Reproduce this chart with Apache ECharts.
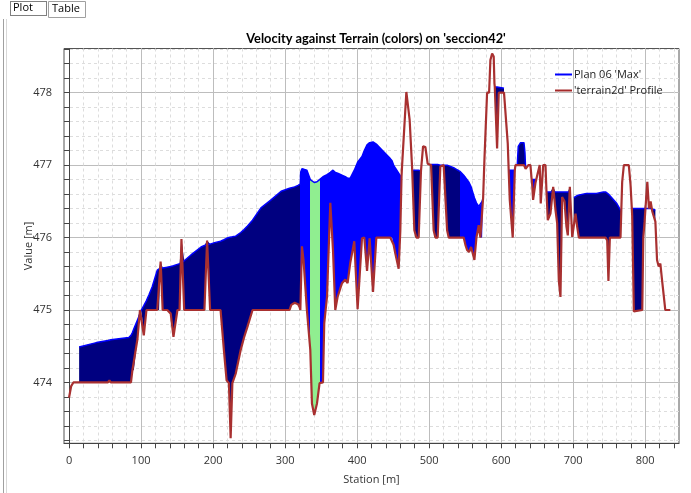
<!DOCTYPE html>
<html>
<head>
<meta charset="utf-8">
<style>
  html, body { margin: 0; padding: 0; background: #ffffff; }
  #chart { width: 691px; height: 493px; }
</style>
<script src="https://cdn.jsdelivr.net/npm/echarts@6/dist/echarts.min.js"></script>
</head>
<body>
<div id="chart"></div>
<script>
// Cross-section 'seccion42': terrain profile and maximum water surface (Plan 06)
const station = [
  0, 3, 6, 14, 14, 38, 54, 56, 58, 83, 86, 88, 90, 95, 98.5, 100.5, 103.8, 107.5, 111, 115.5,
  122.5, 125, 127.2, 130, 136.4, 141.2, 145, 150.5, 153.5, 156.1, 159.9, 169.3, 183.3, 188, 191.7, 195.9,
  202, 210.4, 215, 218.8, 222, 224.4, 226.8, 231.4, 238.4, 243, 247.8, 254.8, 266.5, 280.5, 294.5,
  306.2, 308.6, 313.3, 318, 320.2, 321.2, 321.6, 323.4, 325.6, 330.3, 335, 337.3, 340.5, 344.3, 347.9,
  352.6, 354.4, 358.2, 362.8, 366.5, 369.7, 372.9, 379, 383.6, 386.8, 390.5, 396.1, 400.7, 406.8,
  410, 413.8, 417.4, 422.1, 426.7, 434.6, 446.1, 448.5, 450.7, 453.1, 457.7, 460, 461.7, 462.4,
  464.7, 468.4, 473, 476.3, 476.5, 479.5, 482.3, 485.5, 488.7, 491.6, 494.8, 498, 502.7, 506.3,
  508.7, 511.9, 515.6, 520.2, 525, 527.2, 535, 543.4, 548, 550.4, 552.7, 555.5, 558.3, 562.9,
  565.7, 568.9, 571.2, 573.6, 575, 576.8, 580.5, 583.3, 585.1, 587.5, 589.7, 590.7, 591.2, 594.4,
  596.7, 604, 606, 609.2, 610.5, 612, 616.1, 619, 619.9, 622.4, 623.8, 627, 631.7, 633.1, 634,
  637.8, 640.7, 642.4, 643, 644.4, 647.6, 648.8, 650.9, 653.6, 655, 658.4, 661.6, 663, 664.8,
  668.5, 672.3, 675.5, 677.8, 680.1, 682.4, 684.7, 688, 690.7, 692.6, 695.4, 698.7, 701, 701,
  703.3, 705.6, 707.9, 718.4, 732.4, 741.9, 745, 747.3, 749, 751, 760.7, 765.8, 766.9, 768.1,
  770.4, 777.3, 779.7, 781.5, 782, 784.3, 796, 797.4, 799.2, 803, 805.3, 807.6, 809.9, 814.2,
  814.2, 816.5, 818.8, 821.1, 823.5, 828, 835
];
const terrain = [
  473.79, 473.95, 474.0, 474.0, 474.0, 474.0, 474.0, 474.03, 474.0, 474.0, 474.0, 474.17, 474.17, 474.6, 475.0, 475.0, 474.65, 475.0, 475.0, 475.0,
  475.0, 475.0, 475.67, 475.0, 475.0, 474.95, 474.63, 475.0, 475.0, 475.98, 475.0, 475.0, 475.0, 475.0, 475.96, 475.0,
  475.0, 475.0, 474.45, 474.03, 473.99, 473.23, 473.99, 474.12, 474.45, 474.62, 474.77, 475.0, 475.0, 475.0, 475.0,
  475.0, 475.07, 475.1, 475.08, 475.04, 475.0, 475.0, 475.88, 475.69, 475.0, 474.45, 473.71, 473.55, 473.71, 473.99,
  474.0, 474.82, 475.18, 476.48, 475.83, 475.0, 475.18, 475.37, 475.42, 475.37, 475.65, 475.95, 475.01, 475.99,
  476.0, 475.54, 475.99, 475.25, 476.0, 476.0, 476.0, 476.0, 475.9, 475.78, 475.57, 476.09, 476.84, 476.98,
  477.0, 478.01, 477.62, 476.98, 476.93, 476.1, 476.0, 476.0, 476.92, 477.26, 477.25, 477.02, 477.0, 476.1,
  476.0, 476.0, 476.98, 477.0, 476.1, 476.0, 476.0, 476.0, 476.0, 475.9, 475.83, 475.8, 475.87, 475.69,
  476.0, 476.17, 476.0, 476.0, 476.55, 477.07, 478.0, 478.0, 478.45, 478.54, 478.5, 478.13, 478.08, 477.23,
  478.0, 478.0, 478.0, 477.3, 476.93, 476.52, 476.0, 476.93, 477.0, 477.0, 477.0, 477.0, 477.0, 477.0, 476.95,
  477.0, 477.0, 476.8, 476.75, 476.52, 476.75, 476.8, 476.89, 477.0, 476.47, 477.0, 477.0, 476.63, 476.24,
  476.33, 476.7, 476.38, 476.2, 475.41, 475.18, 476.56, 476.5, 476.15, 476.03, 476.7, 476.01, 476.17, 476.17,
  476.33, 476.15, 476.0, 476.0, 476.0, 476.0, 476.0, 475.96, 475.4, 476.0, 476.0, 476.0, 476.38, 476.77,
  477.0, 477.0, 476.73, 476.4, 476.3, 474.98, 475.0, 476.0, 476.22, 476.77, 476.4, 476.5, 476.36, 476.22,
  476.22, 475.69, 475.6, 475.64, 475.41, 475.0, 475.0
];
// Maximum water surface elevation; null where the ground is dry
const wse = [
  null, null, null, null, 474.49, 474.55, 474.58, 474.58, 474.59, 474.62, 474.65, 474.69, 474.74, 474.86, 474.95, 475.0, 475.06, 475.13, 475.21, 475.32,
  475.55, 475.57, 475.58, 475.58, 475.59, 475.6, 475.61, 475.63, 475.64, 475.66, 475.68, 475.76, 475.87, 475.89, 475.9, 475.91,
  475.93, 475.95, 475.97, 475.99, 476.0, 476.0, 476.01, 476.02, 476.07, 476.11, 476.16, 476.24, 476.41, 476.52, 476.64,
  476.68, 476.69, 476.7, 476.72, 476.73, 476.74, 476.9, 476.95, 476.95, 476.93, 476.8, 476.78, 476.76, 476.77, 476.8,
  476.84, 476.85, 476.87, 476.9, 476.93, 476.9, 476.89, 476.86, 476.84, 476.82, 476.82, 476.93, 477.04, 477.12,
  477.2, 477.28, 477.31, 477.32, 477.29, 477.21, 477.09, 477.06, 477.0, 476.96, 476.89, 476.85, 476.84, null,
  null, null, null, null, 476.93, 476.93, 476.93, 476.93, 476.92, null, null, null, 477.01, 477.01,
  477.01, 477.01, 477.0, 477.0, 477.0, 476.99, 476.96, 476.91, 476.86, 476.84, 476.8, 476.76, 476.7, 476.55,
  476.48, 476.43, 476.45, 476.5, 476.55, null, null, null, null, null, null, null, 478.08, 478.08,
  478.08, 478.06, null, null, 476.93, 476.93, 476.93, 476.93, null, 477.0, 477.26, 477.31, 477.31, 477.17, 476.95,
  null, null, 476.8, 476.8, 476.8, 476.8, 476.8, null, null, null, null, null, 476.63, 476.63,
  476.63, 476.63, 476.63, 476.63, 476.63, 476.63, 476.63, 476.63, 476.63, 476.63, 476.63, null, null, 476.55,
  476.56, 476.58, 476.59, 476.61, 476.61, 476.63, 476.63, 476.62, 476.6, 476.58, 476.47, 476.38, 476.38, null,
  null, null, null, 476.4, 476.4, 476.4, 476.4, 476.4, 476.4, 476.4, 476.4, 476.4, 476.39, 476.38,
  null, null, null, null, null, null, null
];
// Velocity classes along the section: [from station, to station, colour]
const zoneFrom  = [-10, 321.3, 335, 349, 462, 543.4, 576, 609.5, 620.5, 641, 651];
const zoneTo    = [321.3, 335, 349, 462, 543.4, 576, 609.5, 620.5, 641, 651, 900];
const zoneColor = ['#000080', '#0000ff', '#90ee90', '#0000ff', '#000080', '#0000ff', '#000080', '#0000ff', '#000080', '#0000ff', '#000080'];

const xMajorTicks = [0, 100, 200, 300, 400, 500, 600, 700, 800];
const yMajorTicks = [474, 475, 476, 477, 478];

const xMinorTicks = [];
for (let v = 0; v <= 840; v += 20) xMinorTicks.push(v);
const yMinorTicks = [];
for (let k = 2366; k <= 2393; k++) yMinorTicks.push(+(k * 0.2).toFixed(1));

// Consecutive wet stations form one flooded stretch
const wetRuns = [];
let runStart = -1;
for (let i = 0; i <= station.length; i++) {
  const wet = i < station.length && wse[i] != null;
  if (wet && runStart < 0) runStart = i;
  if (!wet && runStart >= 0) { wetRuns.push([runStart, i - 1]); runStart = -1; }
}

const terrainData = station.map((s, i) => [s, terrain[i]]);
const wseData = station.map((s, i) => [s, wse[i]]);
const runData = wetRuns.map(r => [station[r[0]], terrain[r[0]], r[0], r[1]]);

function renderWetArea(params, api) {
  const i0 = api.value(2), i1 = api.value(3);
  const top = [], bottom = [];
  for (let i = i0; i <= i1; i++) {
    top.push(api.coord([station[i], Math.max(wse[i], terrain[i])]));
    bottom.push(api.coord([station[i], terrain[i]]));
  }
  const pts = top.concat(bottom.reverse());
  // Velocity colouring: hard colour stops across the plot width
  const cs = params.coordSys;
  const x0 = cs.x, x1 = cs.x + cs.width;
  const stops = [];
  for (let k = 0; k < zoneColor.length; k++) {
    const a = Math.min(1, Math.max(0, (api.coord([zoneFrom[k], 0])[0] - x0) / (x1 - x0)));
    const b = Math.min(1, Math.max(0, (api.coord([zoneTo[k], 0])[0] - x0) / (x1 - x0)));
    stops.push({ offset: a, color: zoneColor[k] }, { offset: b, color: zoneColor[k] });
  }
  return {
    type: 'polygon',
    shape: { points: pts },
    style: { fill: new echarts.graphic.LinearGradient(x0, 0, x1, 0, stops, true), stroke: null },
    silent: true
  };
}

const FONT = '"Open Sans", "Noto Sans", sans-serif';
const chart = echarts.init(document.getElementById('chart'), null, { renderer: 'canvas' });

const X_MIN = -7, X_MAX = 847, Y_MIN = 473.16, Y_MAX = 478.61;

chart.setOption({
  animation: false,
  backgroundColor: '#ffffff',
  title: {
    text: "Velocity against Terrain (colors) on 'seccion42'",
    left: 371, top: 27, textAlign: 'center',
    textStyle: { fontFamily: 'Lato, "Open Sans", sans-serif', fontSize: 12.8, fontWeight: 'bold', color: '#000000' }
  },
  legend: {
    data: ["Plan 06 'Max'", "'terrain2d' Profile"],
    orient: 'vertical', left: 550, top: 64,
    itemWidth: 17, itemHeight: 2, itemGap: 5,
    icon: 'rect',
    textStyle: { fontFamily: FONT, fontSize: 11, color: '#222222', padding: [0, 0, 0, -3] }
  },
  grid: {
    left: 64, right: 12, top: 48.5, bottom: 49.7,
    show: true, borderColor: '#555555', borderWidth: 1, backgroundColor: 'transparent'
  },
  xAxis: [
    {
      type: 'value', min: X_MIN, max: X_MAX, position: 'bottom',
      name: 'Station [m]', nameLocation: 'middle', nameGap: 31, nameMoveOverlap: false,
      nameTextStyle: { fontFamily: FONT, fontSize: 11, color: '#333333' },
      axisLine: { show: true, lineStyle: { color: '#444444', width: 1 } },
      axisTick: { show: true, customValues: xMinorTicks, length: 5, inside: false, lineStyle: { color: '#444444' } },
      axisLabel: { customValues: xMajorTicks, fontFamily: FONT, fontSize: 11, color: '#333333', margin: 12 },
      splitLine: { show: true, lineStyle: { color: '#dddddd', type: [3, 3], width: 1 } }
    },
    {
      type: 'value', min: X_MIN, max: X_MAX, position: 'bottom',
      axisLine: { show: false },
      axisTick: { show: false, customValues: xMajorTicks },
      axisLabel: { show: false },
      splitLine: { show: true, lineStyle: { color: '#bdbdbd', type: 'solid', width: 1 } }
    }
  ],
  yAxis: [
    {
      type: 'value', min: Y_MIN, max: Y_MAX, position: 'left',
      name: 'Value [m]', nameLocation: 'middle', nameGap: 30, nameMoveOverlap: false,
      nameTextStyle: { fontFamily: FONT, fontSize: 11, color: '#333333' },
      axisLine: { show: true, lineStyle: { color: '#444444', width: 1 } },
      axisTick: { show: true, customValues: yMinorTicks, length: 5, inside: false, lineStyle: { color: '#444444' } },
      axisLabel: { customValues: yMajorTicks, fontFamily: FONT, fontSize: 11, color: '#333333', margin: 12 },
      splitLine: { show: true, lineStyle: { color: '#dddddd', type: [3, 3], width: 1 } }
    },
    {
      type: 'value', min: Y_MIN, max: Y_MAX, position: 'left',
      axisLine: { show: false },
      axisTick: { show: false, customValues: yMajorTicks },
      axisLabel: { show: false },
      splitLine: { show: true, lineStyle: { color: '#bdbdbd', type: 'solid', width: 1 } }
    }
  ],
  series: [
    {
      name: 'wetted', type: 'custom', renderItem: renderWetArea,
      data: runData, encode: { x: 0, y: 1 }, z: 2, silent: true, clip: true
    },
    {
      name: "Plan 06 'Max'", type: 'line',
      data: wseData, showSymbol: false, symbol: 'none', z: 3, connectNulls: false,
      color: '#0000ff',
      lineStyle: { color: '#0000ff', width: 1.5 }
    },
    {
      name: "'terrain2d' Profile", type: 'line',
      data: terrainData, showSymbol: false, symbol: 'none', z: 5,
      color: '#a52a2a',
      lineStyle: { color: '#a83030', width: 2.2 }
    }
  ],
  graphic: [
    { type: 'line', shape: { x1: 3.5, y1: 19, x2: 3.5, y2: 493 }, style: { stroke: '#a0a0a0', lineWidth: 1 }, z: 10 },
    { type: 'line', shape: { x1: 6.5, y1: 19, x2: 6.5, y2: 493 }, style: { stroke: '#d8d8d8', lineWidth: 1 }, z: 10 },
    { type: 'rect', shape: { x: 48.5, y: 1.5, width: 37, height: 16 }, style: { fill: '#ffffff', stroke: '#a0a0a0', lineWidth: 1 }, z: 11 },
    { type: 'rect', shape: { x: 10.5, y: 1.5, width: 36, height: 14 }, style: { fill: 'none', stroke: '#000000', lineWidth: 1, lineDash: [1, 1] }, z: 11 },
    { type: 'text', x: 13, y: 2, style: { text: 'Plot', font: '11px ' + FONT, fill: '#000000' }, z: 12 },
    { type: 'text', x: 52, y: 3, style: { text: 'Table', font: '11px ' + FONT, fill: '#000000' }, z: 12 }
  ]
});
</script>
</body>
</html>
